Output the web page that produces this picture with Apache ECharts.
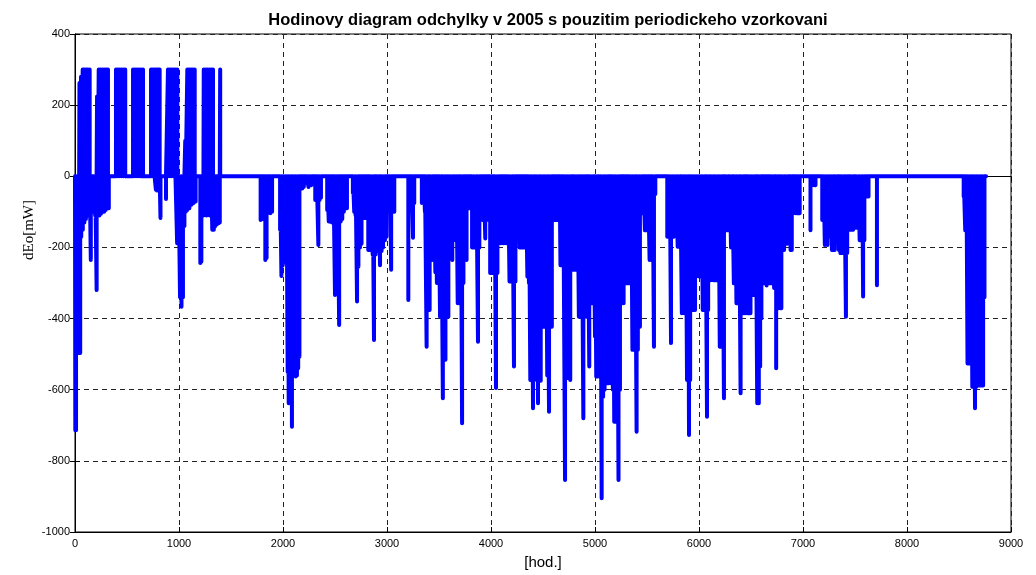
<!DOCTYPE html>
<html>
<head>
<meta charset="utf-8">
<title>Hodinovy diagram odchylky</title>
<script src="https://cdn.jsdelivr.net/npm/echarts@6/dist/echarts.min.js"></script>
<style>
  html, body { margin: 0; padding: 0; background: #fff; }
  #chart { width: 1036px; height: 575px; }
</style>
</head>
<body>
<div id="chart"></div>
<script>
  // hodinove odchylky [hod., mW]; mezi spicky je hodnota 0
  const posPeaks = [
    [43, 262], [58, 280], [74, 300], [90, 300], [106, 300], [122, 300], [141, 300],
    [212, 224], [228, 300], [246, 300], [264, 300], [282, 300], [300, 300], [317, 300],
    [394, 300], [412, 300], [430, 300], [448, 300], [466, 300], [483, 300],
    [558, 300], [577, 300], [596, 300], [615, 300], [634, 300], [654, 300],
    [731, 300], [748, 300], [765, 300], [782, 300], [798, 300], [814, 300],
    [894, 300], [912, 300], [930, 300], [948, 300], [966, 300], [984, 300],
    [1060, 100], [1080, 300], [1098, 300], [1116, 300], [1134, 300], [1151, 300],
    [1238, 300], [1256, 300], [1274, 300], [1292, 300], [1310, 300], [1327, 300],
    [1396, 300]
  ];

  const winterDips = [
    [3, -714], [10, -714], [28, -497], [40, -497], [50, -497], [60, -170], [75, -150],
    [90, -130], [105, -120], [120, -110], [135, -103], [152, -235], [165, -100],
    [180, -100], [194, -110], [208, -320], [220, -110], [235, -110], [250, -105],
    [265, -100], [280, -100], [295, -95], [310, -90], [325, -90],
    [778, -38], [790, -40], [822, -117], [875, -64],
    [982, -188], [995, -190], [1010, -340], [1024, -367], [1038, -340], [1052, -140],
    [1065, -100], [1080, -95], [1100, -90], [1120, -80], [1140, -75], [1160, -71],
    [1205, -244], [1215, -240], [1235, -110], [1250, -100], [1265, -110], [1280, -100],
    [1295, -110], [1320, -150], [1335, -150], [1350, -140], [1365, -135], [1380, -132], [1392, -130]
  ];

  const springDips = [
    [1785, -123], [1800, -120], [1830, -235], [1842, -230], [1878, -104], [1895, -100],
    [1972, -150], [1985, -280], [1998, -250], [2010, -235], [2022, -240], [2034, -240],
    [2045, -550], [2055, -638], [2065, -560], [2078, -600], [2086, -704], [2096, -560],
    [2110, -560], [2122, -563], [2134, -560], [2146, -540], [2158, -507],
    [2185, -34], [2200, -30], [2232, -20], [2245, -30], [2260, -20], [2272, -25],
    [2310, -67], [2325, -60], [2340, -193], [2352, -67], [2365, -60],
    [2425, -95], [2440, -127], [2455, -127], [2470, -130], [2485, -127], [2500, -334],
    [2512, -130], [2525, -130], [2540, -418], [2555, -127], [2570, -120], [2585, -100],
    [2600, -90], [2615, -90],
    [2672, -47], [2685, -100], [2698, -110], [2712, -352], [2725, -254], [2740, -200],
    [2755, -190], [2770, -117], [2785, -117], [2800, -117],
    [2820, -207], [2835, -207], [2848, -207], [2862, -220], [2875, -460], [2890, -220],
    [2905, -210], [2918, -207], [2933, -250], [2948, -210], [2962, -200], [2980, -180], [2995, -170],
    [3030, -100], [3040, -263], [3055, -100], [3070, -100],
    [3205, -348], [3235, -75], [3250, -173], [3262, -75]
  ];

  const summerDips = [
    [3335, -75], [3350, -75], [3365, -100], [3381, -479], [3395, -376], [3410, -376],
    [3422, -235], [3435, -235], [3450, -235],
    [3465, -270], [3480, -300], [3495, -301], [3510, -395], [3522, -395], [3537, -624],
    [3550, -516], [3562, -516], [3575, -395], [3590, -395], [3602, -180],
    [3615, -180], [3628, -235], [3640, -180], [3655, -180], [3668, -180],
    [3680, -357], [3695, -357], [3710, -357], [3722, -694], [3735, -300],
    [3750, -235], [3765, -235], [3780, -90], [3795, -90],
    [3818, -200], [3832, -200], [3846, -200], [3860, -200], [3875, -465], [3888, -200],
    [3900, -123], [3915, -123], [3930, -123], [3945, -175], [3960, -123],
    [3992, -272], [4005, -272], [4020, -272], [4035, -272], [4048, -595], [4062, -272], [4075, -188],
    [4090, -188], [4105, -188], [4120, -188], [4135, -188], [4150, -188], [4165, -188], [4178, -296],
    [4192, -296], [4206, -296], [4221, -535], [4235, -296],
    [4260, -140], [4275, -200], [4290, -200], [4305, -200], [4320, -200], [4335, -200],
    [4350, -282], [4365, -300], [4378, -573], [4390, -573], [4404, -652], [4416, -573],
    [4428, -423], [4440, -423], [4452, -638], [4465, -423], [4478, -575], [4490, -423],
    [4502, -423], [4515, -423], [4528, -423], [4541, -560], [4558, -662], [4572, -423], [4585, -423],
    [4600, -123], [4615, -123], [4630, -123], [4645, -123], [4660, -123],
    [4668, -250], [4680, -250], [4695, -250], [4712, -854], [4725, -567], [4738, -567],
    [4750, -567], [4762, -573], [4775, -263],
    [4790, -263], [4805, -263], [4818, -263], [4832, -263], [4845, -395],
    [4860, -395], [4872, -395], [4888, -680], [4900, -395], [4915, -395], [4930, -395], [4945, -535],
    [4958, -357], [4972, -357], [4985, -357], [5000, -450], [5012, -563],
    [5025, -563], [5040, -563], [5052, -563], [5064, -905], [5078, -620], [5092, -600], [5105, -582],
    [5118, -582], [5130, -582], [5145, -582], [5160, -582], [5172, -600], [5185, -690],
    [5198, -690], [5212, -620], [5226, -854], [5240, -600],
    [5260, -357], [5275, -357], [5290, -301], [5305, -301], [5320, -301], [5335, -301], [5348, -301],
    [5360, -488], [5372, -488], [5385, -488], [5400, -718], [5412, -488], [5422, -423], [5432, -423],
    [5450, -104], [5465, -104], [5480, -152], [5495, -152], [5510, -152], [5525, -235],
    [5540, -235], [5555, -235], [5567, -479], [5580, -50]
  ];

  const autumnDips = [
    [5695, -170], [5708, -170], [5720, -170], [5731, -469], [5745, -170], [5758, -170],
    [5770, -117], [5782, -117],
    [5795, -198], [5808, -198], [5820, -198], [5835, -385], [5848, -198], [5860, -385], [5872, -385],
    [5885, -573], [5895, -573], [5904, -727], [5915, -573], [5925, -376],
    [5938, -376], [5950, -376], [5962, -376], [5975, -280], [5988, -280],
    [6000, -282], [6012, -282], [6025, -282], [6036, -376],
    [6050, -376], [6062, -376], [6077, -676], [6088, -376],
    [6100, -292], [6112, -292], [6125, -260], [6138, -292], [6150, -292], [6162, -292],
    [6175, -292], [6188, -292], [6200, -479],
    [6212, -479], [6225, -479], [6240, -624],
    [6255, -152], [6268, -152], [6280, -152], [6295, -152], [6308, -200], [6320, -200],
    [6335, -301], [6348, -301], [6360, -357], [6372, -357], [6385, -357], [6400, -610], [6412, -357],
    [6425, -385], [6440, -385], [6455, -385], [6470, -385], [6482, -385], [6495, -385],
    [6508, -334], [6520, -334], [6532, -334], [6545, -334], [6560, -638], [6575, -638],
    [6588, -535], [6600, -400],
    [6620, -301], [6635, -301], [6650, -307], [6665, -301], [6680, -301], [6695, -301],
    [6708, -301], [6722, -314], [6742, -540], [6752, -371],
    [6765, -371], [6780, -371], [6792, -371],
    [6805, -207], [6818, -207],
    [6835, -118], [6848, -190], [6860, -118], [6880, -207], [6892, -207],
    [6925, -104], [6940, -104], [6955, -104], [6968, -104],
    [7072, -152], [7105, -25], [7120, -25],
    [7185, -123], [7198, -123], [7210, -193], [7222, -123], [7235, -193], [7248, -123],
    [7265, -170], [7278, -207], [7290, -170], [7305, -207], [7318, -170], [7330, -170], [7345, -207],
    [7360, -216], [7372, -216], [7385, -216], [7398, -216], [7413, -395], [7425, -216],
    [7440, -57], [7455, -150], [7468, -150], [7482, -150],
    [7505, -145], [7518, -145], [7532, -145], [7545, -180],
    [7558, -180], [7570, -180], [7578, -338], [7590, -180],
    [7600, -57], [7615, -57], [7630, -57],
    [7711, -306]
  ];

  const decemberDips = [
    [8545, -57], [8560, -152], [8572, -152], [8582, -526], [8594, -526], [8606, -526],
    [8616, -282], [8628, -592], [8640, -592], [8654, -652], [8666, -592], [8678, -588],
    [8692, -588], [8705, -588], [8718, -588], [8732, -588], [8745, -340]
  ];

  const lastHour = 8760;
  const xTicks = [0, 9000, 1000];     // min, max, krok
  const yTicks = [-1000, 400, 200];

  const spikes = [].concat(posPeaks, winterDips, springDips, summerDips, autumnDips, decemberDips)
    .sort((a, b) => a[0] - b[0]);

  // kazda odchylka se vraci na nulu
  const lineData = [[0, 0]];
  for (let s of spikes) {
    lineData.push([s[0], 0]);
    lineData.push([s[0], s[1]]);
    lineData.push([s[0], 0]);
  }
  lineData.push([lastHour, 0]);

  const font = 'Liberation Sans, Arial, sans-serif';
  const gridLine = {show: true, lineStyle: {color: '#222', type: [5, 4], width: 1}};
  const plainNum = v => String(v);

  let chart = echarts.init(document.getElementById('chart'));
  chart.setOption({
    animation: false,
    title: {
      text: 'Hodinovy diagram odchylky v 2005 s pouzitim periodickeho vzorkovani',
      left: 543,
      textAlign: 'center',
      top: 7,
      textStyle: {fontFamily: font, fontSize: 16.5, fontWeight: 'bold', color: '#000'}
    },
    grid: {
      left: 75, right: 25, top: 34, bottom: 43,
      show: true, borderColor: '#000', borderWidth: 1
    },
    graphic: [{
      type: 'text',
      left: 22,
      top: 200,
      rotation: Math.PI / 2,
      style: {
        text: 'dEo[mW]',
        font: '15px "Liberation Serif", "Times New Roman", serif',
        fill: '#000'
      }
    }],
    xAxis: [{
      type: 'value',
      min: xTicks[0], max: xTicks[1], interval: xTicks[2],
      name: '[hod.]',
      nameLocation: 'middle',
      nameGap: 23,
      nameTextStyle: {fontFamily: font, fontSize: 15, color: '#000'},
      axisLine: {show: true, onZero: false, lineStyle: {color: '#000'}},
      axisTick: {show: true, inside: true, length: 5, lineStyle: {color: '#000'}},
      axisLabel: {fontFamily: font, fontSize: 11, color: '#000', margin: 6, formatter: plainNum},
      splitLine: gridLine
    }, {
      type: 'value', position: 'top',
      min: xTicks[0], max: xTicks[1], interval: xTicks[2],
      axisLine: {show: true, lineStyle: {color: '#000'}},
      axisTick: {show: true, inside: true, length: 5, lineStyle: {color: '#000'}},
      axisLabel: {show: false},
      splitLine: {show: false}
    }],
    yAxis: [{
      type: 'value',
      min: yTicks[0], max: yTicks[1], interval: yTicks[2],
      axisLine: {show: true, onZero: false, lineStyle: {color: '#000'}},
      axisTick: {show: true, inside: true, length: 5, lineStyle: {color: '#000'}},
      axisLabel: {fontFamily: font, fontSize: 11, color: '#000', margin: 5, formatter: plainNum},
      splitLine: gridLine
    }, {
      type: 'value', position: 'right',
      min: yTicks[0], max: yTicks[1], interval: yTicks[2],
      axisLine: {show: true, lineStyle: {color: '#000'}},
      axisTick: {show: true, inside: true, length: 5, lineStyle: {color: '#000'}},
      axisLabel: {show: false},
      splitLine: {show: false}
    }],
    series: [{
      name: 'dEo',
      type: 'line',
      data: lineData,
      showSymbol: false,
      symbol: 'none',
      clip: true,
      lineStyle: {color: '#0000ff', width: 4, join: 'round', cap: 'round'},
      itemStyle: {color: '#0000ff'}
    }]
  });
</script>
</body>
</html>
